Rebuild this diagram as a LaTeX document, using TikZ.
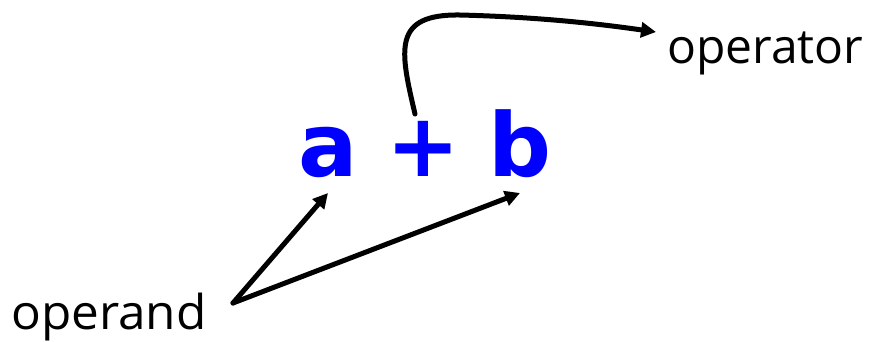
\documentclass[tikz,border=0pt]{standalone}
\usepackage{fontspec}
\setmainfont{Open Sans}
\newfontfamily\exprfont{DejaVu Sans}
\usetikzlibrary{arrows.meta}
\definecolor{exprblue}{RGB}{0,0,255}
\begin{document}
\begin{tikzpicture}[x=1pt,y=-1pt,
  label/.style={inner sep=0pt, font=\fontsize{48}{50}\selectfont, anchor=base west},
  sym/.style={inner sep=0pt, text=exprblue, font=\exprfont\bfseries\fontsize{88}{90}\selectfont, anchor=base},
  conn/.style={line width=5pt, line cap=round, line join=round, -{Triangle[length=15pt,width=15pt]}}]
\useasboundingbox (0,0) rectangle (875,341);
\node[sym] (a) at (328,176) {a};
\node[sym] (plus) at (423,176) {+};
\node[sym] (b) at (520,176) {b};
\node[label] (operator) at (667,63) {operator};
\node[label, xscale=1.03, anchor=base west] (operand) at (11,329) {operand};
\coordinate (opstart) at (415,114);
\coordinate (top) at (460,15);
\coordinate (opend) at (656,32);
\coordinate (src) at (233,303);
\coordinate (ta) at (328,193);
\coordinate (tb) at (520,193);
\draw[conn] (opstart) .. controls (400,50) and (392,14) .. (top) .. controls (540,17) and (600,24) .. (opend);
\draw[conn] (src) -- (ta);
\draw[conn] (src) -- (tb);
\end{tikzpicture}
\end{document}
